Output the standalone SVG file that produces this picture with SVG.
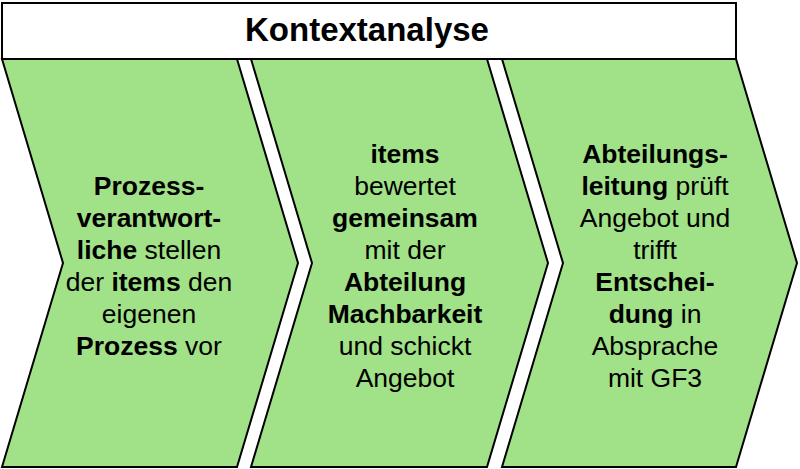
<svg xmlns="http://www.w3.org/2000/svg" width="800" height="469" viewBox="0 0 800 469">
<style>
.chev{fill:#a1e187;stroke:#000;stroke-width:2;stroke-linejoin:miter}
.hdr{fill:#fff;stroke:#000;stroke-width:2}
text{font-family:"Liberation Sans",Arial,sans-serif;fill:#000}
.t{font-size:26.5px;text-anchor:middle}
.title{font-size:33px;font-weight:bold;text-anchor:middle}
.b{font-weight:bold}
</style>
<rect width="800" height="469" fill="#fff"/>
<g id="header">
<rect class="hdr" x="2" y="3" width="734" height="56"/>
<text class="title" x="367" y="41">Kontextanalyse</text>
</g>
<g id="step1">
<polygon class="chev" points="2,59 237,59 298,263 237,467 2,467 63,263"/>
<text class="t b" x="149" y="195">Prozess-</text>
<text class="t b" x="149" y="227">verantwort-</text>
<text class="t" x="149" y="259"><tspan class="b">liche</tspan> stellen</text>
<text class="t" x="149" y="291">der <tspan class="b">items</tspan> den</text>
<text class="t" x="149" y="323">eigenen</text>
<text class="t" x="149" y="355"><tspan class="b">Prozess</tspan> vor</text>
</g>
<g id="step2">
<polygon class="chev" points="251,59 487,59 548,263 487,467 251,467 312,263"/>
<text class="t b" x="405" y="163">items</text>
<text class="t" x="405" y="195">bewertet</text>
<text class="t b" x="405" y="227">gemeinsam</text>
<text class="t" x="405" y="259">mit der</text>
<text class="t b" x="405" y="291">Abteilung</text>
<text class="t b" x="405" y="323">Machbarkeit</text>
<text class="t" x="405" y="355">und schickt</text>
<text class="t" x="405" y="387">Angebot</text>
</g>
<g id="step3">
<polygon class="chev" points="502,59 736,59 797,263 736,467 502,467 563,263"/>
<text class="t b" x="655" y="163">Abteilungs-</text>
<text class="t" x="655" y="195"><tspan class="b">leitung</tspan> prüft</text>
<text class="t" x="655" y="227">Angebot und</text>
<text class="t" x="655" y="259">trifft</text>
<text class="t b" x="655" y="291">Entschei-</text>
<text class="t" x="655" y="323"><tspan class="b">dung</tspan> in</text>
<text class="t" x="655" y="355">Absprache</text>
<text class="t" x="655" y="387">mit GF3</text>
</g>
<g id="connectors"></g>
</svg>
